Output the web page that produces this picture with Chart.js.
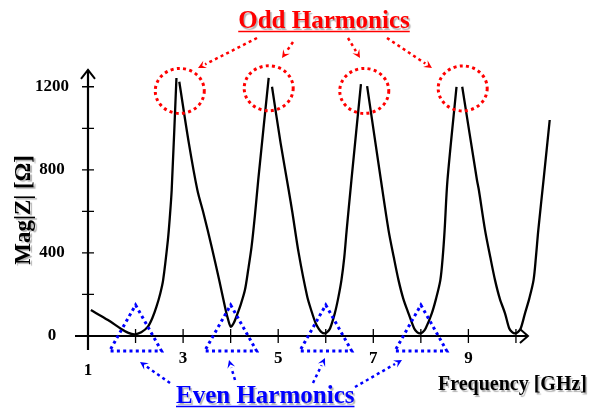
<!DOCTYPE html>
<html>
<head>
<meta charset="utf-8">
<script src="https://cdn.jsdelivr.net/npm/chart.js@4.4.1/dist/chart.umd.min.js"></script>
<style>
    body { margin: 0; background: #fff; }
    #wrap { width: 592px; height: 409px; }
</style>
</head>
<body>
<div id="wrap"><canvas id="chart" width="592" height="409"></canvas></div>
<script>
// Frequency [GHz] / Mag|Z| [Ohm] (null = break at the clipped peak)
const freq = [1.06, 1.42, 1.70, 1.85, 1.98, 2.12, 2.26, 2.36, 2.44, 2.52, 2.58, 2.68, 2.72, 2.76, 2.86, 2.89,
    2.92, 3.12, 3.30, 3.43, 3.60, 3.76, 3.88, 3.94, 4.00, 4.06, 4.12, 4.21, 4.30, 4.37, 4.44, 4.51, 4.58, 4.80, 4.835,
    4.87, 5.05, 5.22, 5.30, 5.43, 5.61, 5.70, 5.79, 5.85, 5.91, 5.97, 6.03, 6.09, 6.19, 6.26, 6.33, 6.39, 6.44, 6.54, 6.74, 6.805,
    6.87, 7.16, 7.32, 7.43, 7.53, 7.63, 7.74, 7.86, 7.92, 7.98, 8.04, 8.10, 8.23, 8.32, 8.41, 8.46, 8.50, 8.56, 8.75, 8.81,
    8.87, 9.18, 9.22, 9.35, 9.46, 9.56, 9.66, 9.77, 9.86, 9.92, 9.98, 10.04, 10.10, 10.19, 10.28, 10.37, 10.42, 10.47, 10.58, 10.71];
const mag = [125, 77, 34, 15, 8, 18, 45, 90, 141, 205, 269, 462, 570, 703, 1242, null,
    1224, 930, 703, 590, 430, 269, 141, 85, 45, 60, 93, 150, 221, 320, 430, 580, 751, 1243, null,
    1200, 930, 703, 592, 400, 190, 120, 60, 36, 19, 13, 19, 36, 109, 180, 269, 380, 510, 751, 1213, null,
    1203, 751, 510, 380, 269, 180, 109, 36, 19, 13, 19, 36, 109, 180, 269, 380, 510, 751, 1200, null,
    1200, 751, 703, 510, 380, 269, 180, 109, 36, 19, 13, 19, 36, 109, 180, 269, 380, 510, 751, 1040];

const xTickValues = [1, 2, 3, 4, 5, 6, 7, 8, 9, 10];
const xTickLabels = ['1', '', '3', '', '5', '', '7', '', '9', ''];
const yTickValues = [0, 200, 400, 600, 800, 1000, 1200];
const yTickLabels = ['0', '', '400', '', '800', '', '1200'];

// callouts
const oddF = [2.93, 4.80, 6.81, 8.88];
const oddMag = [1180, 1193, 1180, 1192];
const evenF = [2, 4, 6, 8];

const serif = "'Times New Roman', 'Liberation Serif', serif";

function dotted(ctx, color) {
    ctx.strokeStyle = color;
    ctx.fillStyle = color;
    ctx.lineWidth = 3;
    ctx.lineCap = 'butt';
    ctx.setLineDash([3, 3.3]);
}

function arrow(ctx, x1, y1, x2, y2, color) {
    const a = Math.atan2(y2 - y1, x2 - x1);
    const hl = 8, hw = 4;
    dotted(ctx, color);
    ctx.lineWidth = 2.5;
    ctx.beginPath();
    ctx.moveTo(x1, y1);
    ctx.lineTo(x2 - Math.cos(a) * hl, y2 - Math.sin(a) * hl);
    ctx.stroke();
    ctx.setLineDash([]);
    ctx.beginPath();
    ctx.moveTo(x2, y2);
    ctx.lineTo(x2 - Math.cos(a) * hl - Math.sin(a) * hw, y2 - Math.sin(a) * hl + Math.cos(a) * hw);
    ctx.lineTo(x2 - Math.cos(a) * hl * 0.6, y2 - Math.sin(a) * hl * 0.6);
    ctx.lineTo(x2 - Math.cos(a) * hl + Math.sin(a) * hw, y2 - Math.sin(a) * hl - Math.cos(a) * hw);
    ctx.closePath();
    ctx.fill();
}

function label(ctx, text, x, y, color, size, align, rot) {
    ctx.save();
    ctx.font = `bold ${size}px ${serif}`;
    ctx.textAlign = align;
    ctx.textBaseline = 'alphabetic';
    ctx.fillStyle = color;
    ctx.shadowColor = 'rgba(0,0,0,0.3)';
    ctx.shadowOffsetX = 1.5;
    ctx.shadowOffsetY = 1.5;
    ctx.shadowBlur = 1;
    ctx.translate(x, y);
    if (rot) ctx.rotate(rot);
    ctx.fillText(text, 0, 0);
    const w = ctx.measureText(text).width;
    ctx.restore();
    return w;
}

const decor = {
    id: 'decor',
    afterDatasetsDraw(chart) {
        const { ctx, scales: { x, y } } = chart;
        const x0 = x.getPixelForValue(1);
        const y0 = y.getPixelForValue(0);
        const xEnd = x.getPixelForValue(10) + 12;
        const yTop = y.getPixelForValue(1200) - 17;
        ctx.save();

        // axes with arrows
        ctx.strokeStyle = '#000';
        ctx.lineWidth = 2.2;
        ctx.beginPath();
        ctx.moveTo(x0 - 13, y0); ctx.lineTo(xEnd, y0);
        ctx.moveTo(x0, y0 + 14); ctx.lineTo(x0, yTop);
        ctx.stroke();
        ctx.lineWidth = 2;
        ctx.beginPath();
        ctx.moveTo(xEnd - 8, y0 - 7); ctx.lineTo(xEnd, y0); ctx.lineTo(xEnd - 8, y0 + 7);
        ctx.moveTo(x0 - 7, yTop + 9); ctx.lineTo(x0, yTop); ctx.lineTo(x0 + 7, yTop + 9);
        ctx.stroke();

        // tick marks crossing the axes
        ctx.lineWidth = 1.3;
        ctx.beginPath();
        xTickValues.slice(1).forEach(v => {
            const px = x.getPixelForValue(v);
            ctx.moveTo(px, y0 - 7); ctx.lineTo(px, y0 + 7);
        });
        yTickValues.slice(1).forEach(v => {
            const py = y.getPixelForValue(v);
            ctx.moveTo(x0 - 6, py); ctx.lineTo(x0 + 6, py);
        });
        ctx.stroke();

        // red dotted circles on the odd harmonics
        dotted(ctx, '#ff0000');
        oddF.forEach((f, i) => {
            ctx.beginPath();
            ctx.ellipse(x.getPixelForValue(f), y.getPixelForValue(oddMag[i]), 24.5, 22.5, 0, 0, Math.PI * 2);
            ctx.stroke();
        });

        // blue dotted triangles on the even harmonics
        dotted(ctx, '#0000ff');
        evenF.forEach(f => {
            const px = x.getPixelForValue(f);
            ctx.beginPath();
            ctx.moveTo(px, y0 - 31);
            ctx.lineTo(px + 26, y0 + 15);
            ctx.lineTo(px - 26, y0 + 15);
            ctx.closePath();
            ctx.stroke();
        });

        // arrows
        arrow(ctx, 257, 38, 198, 68, '#ff0000');
        arrow(ctx, 293, 42, 282, 58, '#ff0000');
        arrow(ctx, 348, 38, 360, 58, '#ff0000');
        arrow(ctx, 387, 38, 432, 68, '#ff0000');
        arrow(ctx, 170, 383, 140, 362, '#0000ff');
        arrow(ctx, 235, 380, 229, 360, '#0000ff');
        arrow(ctx, 313, 383, 325, 358, '#0000ff');
        arrow(ctx, 355, 387, 402, 360, '#0000ff');
        ctx.setLineDash([]);

        // titles
        let w = label(ctx, 'Odd Harmonics', 324, 28, '#ff0000', 25, 'center');
        ctx.strokeStyle = '#ff0000';
        ctx.lineWidth = 1.6;
        ctx.beginPath(); ctx.moveTo(324 - w / 2, 31.5); ctx.lineTo(324 + w / 2, 31.5); ctx.stroke();

        w = label(ctx, 'Even Harmonics', 176, 403, '#0000ff', 25, 'left');
        ctx.strokeStyle = '#0000ff';
        ctx.beginPath(); ctx.moveTo(176, 406.5); ctx.lineTo(176 + w, 406.5); ctx.stroke();

        label(ctx, 'Frequency [GHz]', 587, 390, '#000', 20, 'right');
        label(ctx, 'Mag|Z| [Ω]', 30, 210, '#000', 23, 'center', -Math.PI / 2);

        ctx.restore();
    }
};

new Chart(document.getElementById('chart'), {
    type: 'line',
    data: {
        datasets: [{
            data: freq.map((f, i) => ({ x: f, y: mag[i] })),
            borderColor: '#000',
            borderWidth: 2.3,
            pointRadius: 0,
            tension: 0.3,
            borderJoinStyle: 'round',
            spanGaps: false,
            clip: false
        }]
    },
    options: {
        responsive: false,
        animation: false,
        layout: { padding: { left: 0, right: 28.5, top: 66, bottom: 0 } },
        plugins: { legend: { display: false }, tooltip: { enabled: false } },
        scales: {
            x: {
                type: 'linear',
                min: 1,
                max: 11,
                afterBuildTicks: s => { s.ticks = xTickValues.map(v => ({ value: v })); },
                afterFit: s => { s.height = 73; },
                grid: { display: false, drawTicks: false },
                border: { display: false },
                ticks: {
                    autoSkip: false,
                    maxRotation: 0,
                    padding: 17,
                    color: '#000',
                    font: { family: serif, size: 17, weight: 'bold', lineHeight: 0.7 },
                    callback: (v, i) => i === 0 ? ['', xTickLabels[0]] : xTickLabels[i]
                }
            },
            y: {
                min: 0,
                max: 1300,
                afterBuildTicks: s => { s.ticks = yTickValues.map(v => ({ value: v })); },
                afterFit: s => { s.width = 88; },
                grid: { display: false, drawTicks: false },
                border: { display: false },
                ticks: {
                    crossAlign: 'center',
                    padding: 19,
                    color: '#000',
                    font: { family: serif, size: 17, weight: 'bold' },
                    callback: (v, i) => yTickLabels[i]
                }
            }
        }
    },
    plugins: [decor]
});
</script>
</body>
</html>
